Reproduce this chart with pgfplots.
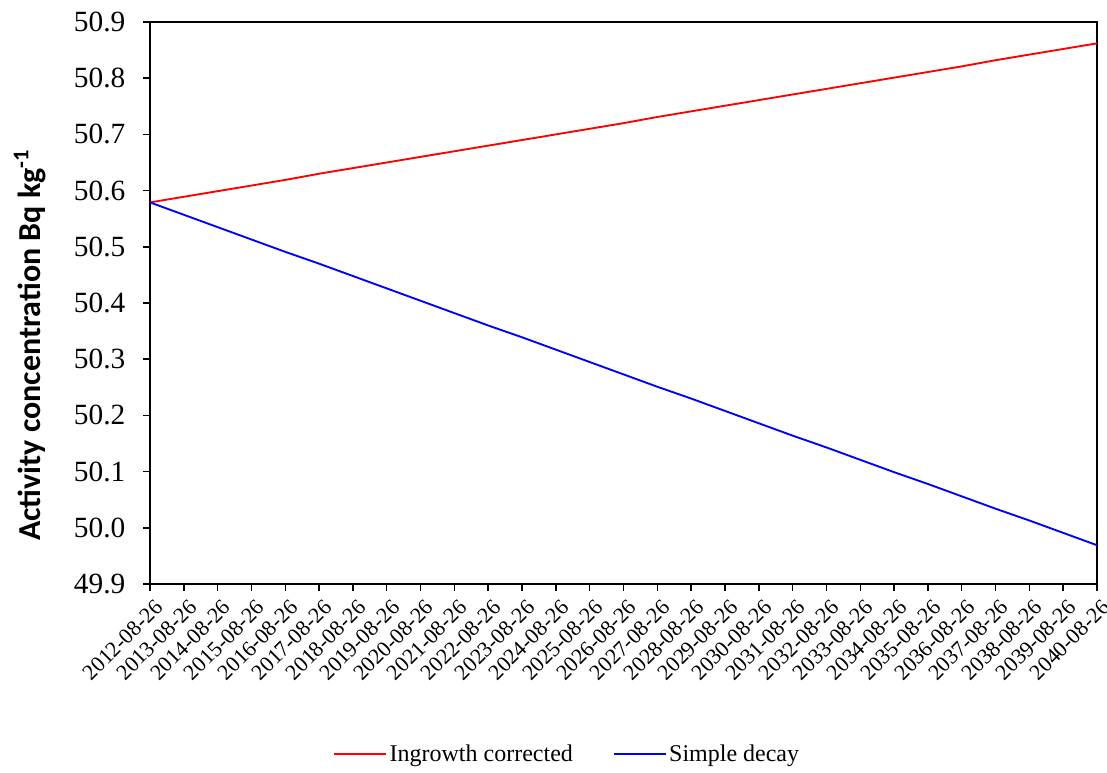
\documentclass[border=0pt]{standalone}
\usepackage{pgfplots}
\pgfplotsset{compat=1.18}
\usepackage{fontspec}
\setmainfont{Liberation Serif}
\newfontfamily\labelfont{Carlito}

\definecolor{ingrowth}{RGB}{255,0,0}
\definecolor{decay}{RGB}{0,0,255}

\begin{document}
\begin{tikzpicture}
\begin{axis}[
  scale only axis,
  width=710.25pt, height=421.5pt,
  xmin=0, xmax=28,
  ymin=49.9, ymax=50.9,
  ytick={49.9,50.0,50.1,50.2,50.3,50.4,50.5,50.6,50.7,50.8,50.9},
  yticklabel style={font=\fontsize{22}{24}\selectfont, xshift=-10pt},
  y tick label style={/pgf/number format/fixed, /pgf/number format/fixed zerofill,
    /pgf/number format/precision=1, /pgf/number format/assume math mode=true},
  xtick={0,...,28},
  xticklabels={2012-08-26,2013-08-26,2014-08-26,2015-08-26,2016-08-26,2017-08-26,2018-08-26,2019-08-26,2020-08-26,2021-08-26,2022-08-26,2023-08-26,2024-08-26,2025-08-26,2026-08-26,2027-08-26,2028-08-26,2029-08-26,2030-08-26,2031-08-26,2032-08-26,2033-08-26,2034-08-26,2035-08-26,2036-08-26,2037-08-26,2038-08-26,2039-08-26,2040-08-26},
  xticklabel style={rotate=45, anchor=north east, font=\fontsize{16.5}{18}\selectfont, inner sep=2pt, yshift=-4pt},
  tick align=outside,
  tick pos=left,
  major tick length=5pt,
  axis line style={line width=1.1pt},
  every tick/.style={line width=1.1pt, black},
  ylabel={\labelfont\bfseries Activity concentration Bq kg\textsuperscript{-1}},
  ylabel style={font=\fontsize{24}{28}\selectfont, at={(rel axis cs:-0.127,0.425)}, anchor=center},
  legend columns=2,
  legend style={draw=none, at={(rel axis cs:0.441,-0.302)}, anchor=center,
    font=\fontsize{18}{22}\selectfont,
    /tikz/every even column/.append style={column sep=28pt}},
  legend image code/.code={\draw[#1, line width=1.2pt] (0pt,0pt) -- (39pt,0pt);},
]
\addplot[ingrowth, line width=1.4pt] coordinates {
(0,50.579) (1,50.589) (2,50.599) (3,50.609) (4,50.619) (5,50.630) (6,50.640)
(7,50.650) (8,50.660) (9,50.670) (10,50.680) (11,50.690) (12,50.700) (13,50.710)
(14,50.720) (15,50.731) (16,50.741) (17,50.751) (18,50.761) (19,50.771) (20,50.781)
(21,50.791) (22,50.801) (23,50.811) (24,50.821) (25,50.832) (26,50.842) (27,50.852)
(28,50.862)};
\addlegendentry{Ingrowth corrected}
\addplot[decay, line width=1.4pt] coordinates {
(0,50.579) (1,50.557) (2,50.535) (3,50.513) (4,50.491) (5,50.470) (6,50.448)
(7,50.426) (8,50.404) (9,50.382) (10,50.360) (11,50.339) (12,50.317) (13,50.295)
(14,50.273) (15,50.251) (16,50.230) (17,50.208) (18,50.186) (19,50.164) (20,50.143)
(21,50.121) (22,50.099) (23,50.078) (24,50.056) (25,50.034) (26,50.013) (27,49.991)
(28,49.969)};
\addlegendentry{Simple decay}
\end{axis}
\pgfresetboundingbox
\path (-112.5pt,-141pt) rectangle (717.75pt,438pt);
\end{tikzpicture}
\end{document}
